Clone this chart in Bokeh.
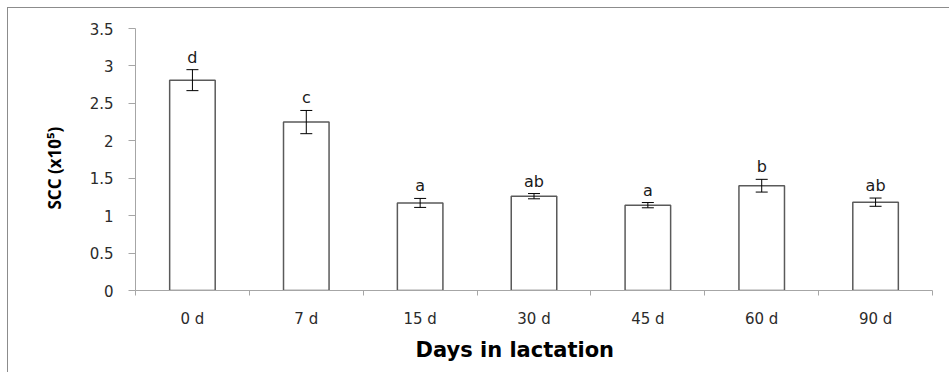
import numpy as np
from bokeh.plotting import figure
from bokeh.models import (ColumnDataSource, Whisker, TeeHead, LabelSet, Title,
                          FixedTicker, NumeralTickFormatter, Range1d)
from bokeh.core.properties import value
from bokeh.embed import file_html
from bokeh.resources import INLINE

# ---- data ----
categories = ["0 d", "7 d", "15 d", "30 d", "45 d", "60 d", "90 d"]
scc_mean = [2.81, 2.25, 1.17, 1.26, 1.14, 1.40, 1.18]
scc_err = [0.14, 0.155, 0.06, 0.035, 0.035, 0.085, 0.055]
letters = ["d", "c", "a", "ab", "a", "b", "ab"]
y_ticks = [0, 0.5, 1, 1.5, 2, 2.5, 3, 3.5]

n = len(categories)
xpos = [i + 0.5 for i in range(n)]
upper = [m + e for m, e in zip(scc_mean, scc_err)]
lower = [m - e for m, e in zip(scc_mean, scc_err)]

src = ColumnDataSource(dict(x=xpos, top=scc_mean, upper=upper, lower=lower, letters=letters))

p = figure(width=942, height=365, output_backend="svg", toolbar_location=None,
           x_range=Range1d(0, n), y_range=Range1d(0, 3.5),
           min_border_left=127, min_border_right=18, min_border_top=20, min_border_bottom=83)
p.styles = {"border-top": "1px solid #8c8c8c", "border-left": "1px solid #8c8c8c",
            "margin-left": "7px", "margin-top": "7px"}
p.outline_line_color = None
p.xgrid.grid_line_color = None
p.ygrid.grid_line_color = None
p.background_fill_color = "white"
p.border_fill_color = "white"

p.vbar(x="x", top="top", bottom=0, width=0.4, source=src,
       fill_color="white", line_color="#5a5a5a", line_width=1.5)

wh = Whisker(source=src, base="x", upper="upper", lower="lower",
             line_color="black", line_width=1, level="overlay",
             upper_head=TeeHead(size=12, line_color="black", line_width=1),
             lower_head=TeeHead(size=12, line_color="black", line_width=1))
p.add_layout(wh)

lbl = LabelSet(x="x", y="upper", text="letters", source=src, y_offset=7,
               text_align="center", text_baseline="alphabetic",
               text_font=value("DejaVu Sans"), text_font_size=value("16px"),
               text_color="#1a1a1a")
p.add_layout(lbl)

axis_gray = "#a6a6a6"
tick_font = "DejaVu Sans"

# x axis: labels at category centres, tick marks at category boundaries
xa = p.xaxis[0]
xa.ticker = FixedTicker(ticks=xpos, minor_ticks=list(range(n + 1)))
xa.major_label_overrides = {x: c for x, c in zip(xpos, categories)}
xa.major_tick_out = 0
xa.major_tick_in = 0
xa.minor_tick_out = 5
xa.minor_tick_in = 0
xa.minor_tick_line_color = axis_gray
xa.axis_line_color = axis_gray
xa.major_label_standoff = 14
xa.major_label_text_font = tick_font
xa.major_label_text_font_size = "15px"
xa.major_label_text_color = "#2b2b2b"

ya = p.yaxis[0]
ya.ticker = FixedTicker(ticks=y_ticks)
ya.formatter = NumeralTickFormatter(format="0.[0]")
ya.major_tick_out = 7
ya.major_tick_in = 0
ya.minor_tick_line_color = None
ya.major_tick_line_color = axis_gray
ya.axis_line_color = axis_gray
ya.major_label_standoff = 15
ya.major_label_text_font = tick_font
ya.major_label_text_font_size = "15px"
ya.major_label_text_color = "#2b2b2b"

# axis titles as Titles (offset along the axis from the start edge)
xt = Title(text="Days in lactation", align="left", offset=280, standoff=10,
           text_font="DejaVu Sans", text_font_style="bold", text_font_size="21px",
           text_color="black")
p.add_layout(xt, "below")

yt = Title(text="SCC (x10\u2075)", align="left", offset=81, standoff=41,
           text_font="Open Sans", text_font_style="bold", text_font_size="17px",
           text_color="black")
p.add_layout(yt, "left")

open("out.html", "w").write(file_html(p, INLINE))
